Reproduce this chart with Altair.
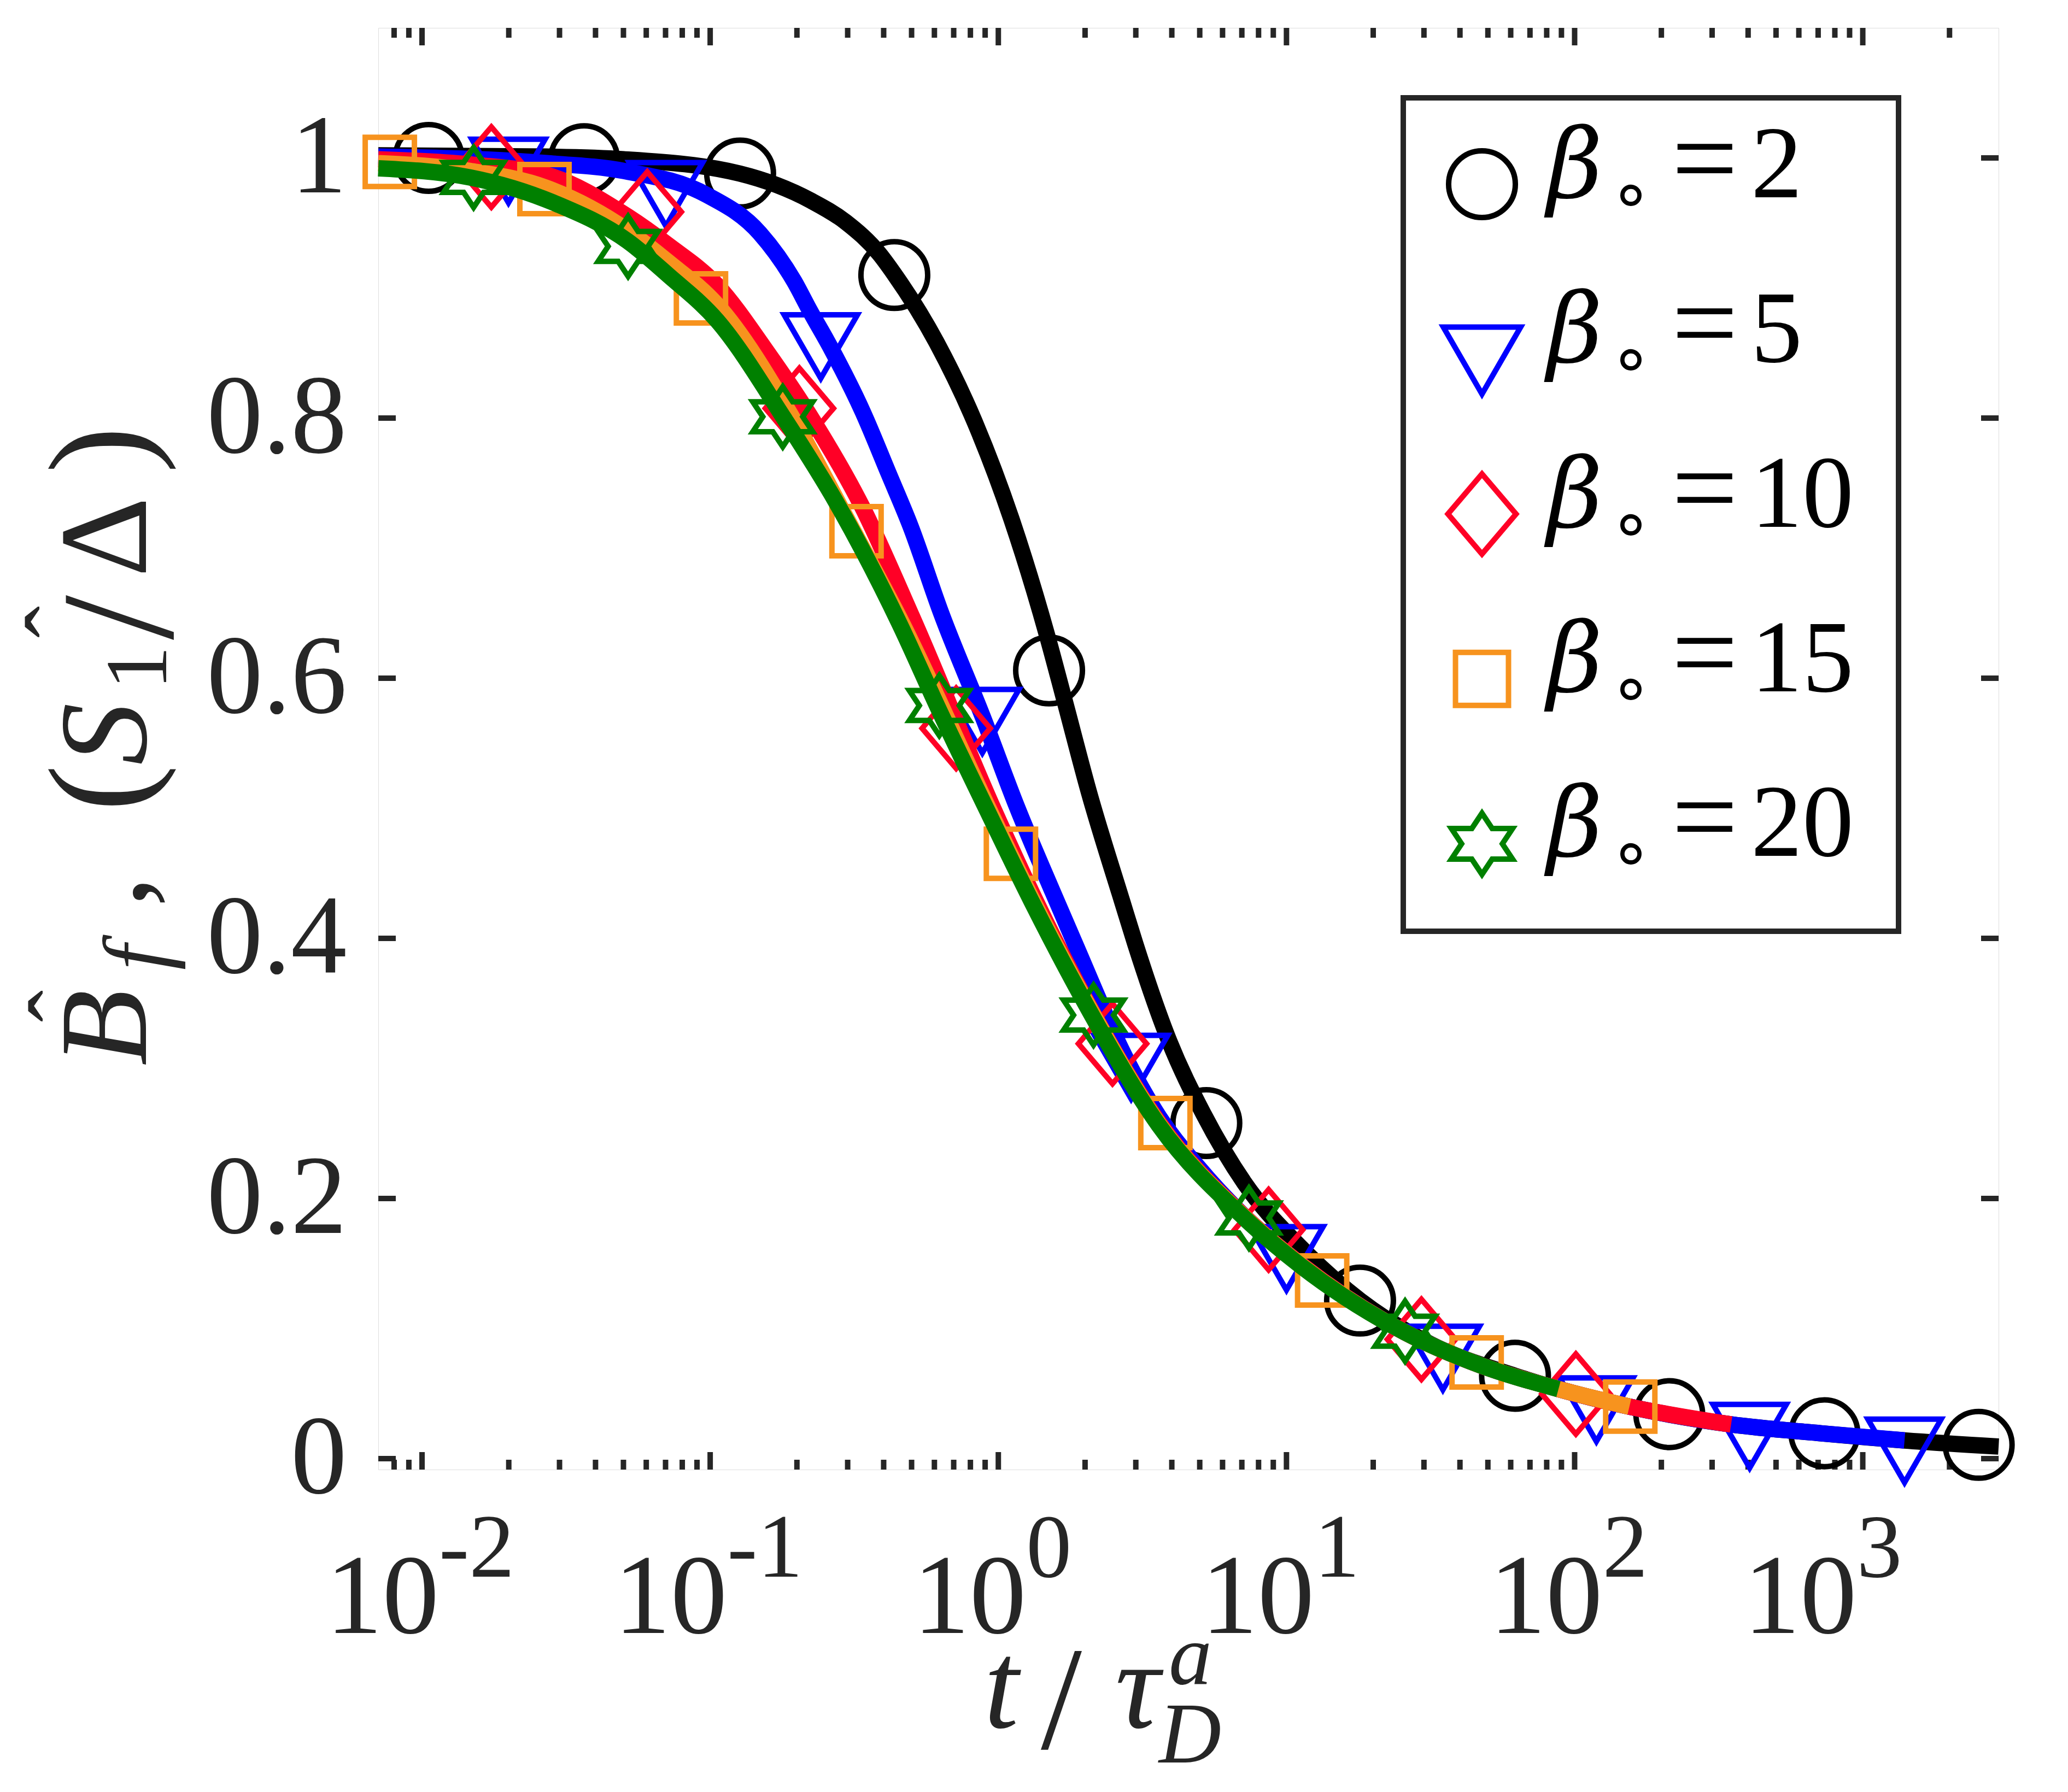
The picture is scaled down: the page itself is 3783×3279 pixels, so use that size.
import altair as alt
import pandas as pd

AX = "#262626"
W, H = 2964, 2638
PAD = {"left": 684, "top": 43, "right": 110, "bottom": 582}

# ---------------- data ----------------
beta_values = ["2", "5", "10", "15", "20"]
colors = ["#000000", "#0000FF", "#FF0026", "#F7931E", "#008000"]

# theory curves (t / tau_D^a , value)
b2_curve_t = [0.00705, 0.02704, 0.05012, 0.1265, 0.2244, 0.2944, 0.3873, 0.4345, 0.6109, 0.8318,
              1.112, 1.472, 1.702, 2.065, 2.685, 2.985, 3.917, 5.152, 7.145, 11.25,
              18.03, 31.62, 62.09, 154.9, 349.1, 714.5, 1396, 2960]
b2_curve_v = [1.002, 1.001, 0.999, 0.988, 0.967, 0.951, 0.926, 0.911, 0.858, 0.796,
              0.722, 0.634, 0.582, 0.512, 0.429, 0.396, 0.321, 0.265, 0.212, 0.162,
              0.1215, 0.088, 0.0637, 0.040, 0.0263, 0.0195, 0.014, 0.0093]

b5_curve_t = [0.00705, 0.02704, 0.05012, 0.09638, 0.1489, 0.1959, 0.2213, 0.2636, 0.3381, 0.4169,
              0.4955, 0.6310, 0.8913, 1.156, 1.549, 1.828, 2.825, 3.631, 4.898, 7.145,
              11.25, 25.82, 47.21, 87.90, 154.9, 349.1, 714.5, 1396]
b5_curve_v = [1.001, 0.996, 0.990, 0.972, 0.942, 0.905, 0.883, 0.853, 0.805, 0.757,
              0.717, 0.651, 0.568, 0.502, 0.435, 0.398, 0.304, 0.262, 0.225, 0.186,
              0.149, 0.097, 0.0717, 0.0535, 0.040, 0.0263, 0.0195, 0.014]

b10_curve_t = [0.00705, 0.01469, 0.02704, 0.05176, 0.07145, 0.1057, 0.1585, 0.2173, 0.3365, 0.5023,
               0.9705, 1.349, 2.123, 3.614, 7.145, 11.25, 25.82, 47.21, 87.90, 154.9, 349.1]
b10_curve_v = [0.999, 0.995, 0.987, 0.955, 0.933, 0.902, 0.850, 0.805, 0.732, 0.647,
               0.4975, 0.4287, 0.343, 0.258, 0.186, 0.149, 0.097, 0.0717, 0.0535, 0.040, 0.0263]

b15_curve_t = [0.00705, 0.01469, 0.02704, 0.05176, 0.07145, 0.1057, 0.1932, 0.2825, 0.4667, 0.9333,
               1.318, 2.138, 3.614, 7.145, 11.25, 25.82, 47.21, 87.90, 154.9]
b15_curve_v = [0.996, 0.990, 0.977, 0.944, 0.920, 0.887, 0.800, 0.732, 0.641, 0.498,
               0.429, 0.341, 0.257, 0.1855, 0.1485, 0.097, 0.0717, 0.0535, 0.040]

b20_curve_t = [0.00705, 0.01469, 0.02904, 0.05176, 0.07145, 0.1057, 0.1803, 0.2742, 0.4560, 0.6152,
               0.9162, 1.300, 2.123, 3.614, 7.145, 11.25, 25.82, 47.21, 87.90]
b20_curve_v = [0.992, 0.985, 0.965, 0.936, 0.910, 0.875, 0.800, 0.735, 0.641, 0.578,
               0.498, 0.429, 0.340, 0.256, 0.185, 0.148, 0.097, 0.0717, 0.0535]

# simulation markers
b2_mark_t = [0.01054, 0.0365, 0.127, 0.4355, 1.50, 5.27, 18.0, 62.1, 213, 736, 2525]
b2_mark_v = [1.000, 0.999, 0.988, 0.910, 0.606, 0.258, 0.1215, 0.0637, 0.0342, 0.0195, 0.0106]

b5_mark_t = [0.01995, 0.0702, 0.242, 0.88, 2.89, 10.0, 34.9, 119, 405, 1396]
b5_mark_v = [0.990, 0.972, 0.855, 0.567, 0.301, 0.154, 0.0774, 0.0377, 0.0173, 0.006]

b10_mark_t = [0.0174, 0.0605, 0.204, 0.714, 2.49, 8.67, 29.4, 101]
b10_mark_v = [0.993, 0.9585, 0.8075, 0.5615, 0.319, 0.176, 0.0917, 0.0497]

b15_mark_t = [0.00773, 0.0266, 0.0929, 0.322, 1.106, 3.80, 13.3, 45.7, 156]
b15_mark_v = [0.997, 0.976, 0.892, 0.713, 0.465, 0.258, 0.137, 0.074, 0.040]

b20_mark_t = [0.0151, 0.0519, 0.1786, 0.624, 2.14, 7.41, 25.8]
b20_mark_v = [0.985, 0.932, 0.801, 0.579, 0.341, 0.185, 0.098]

# axes
x_major = [0.01, 0.1, 1, 10, 100, 1000]
x_major_exp = ["-2", "-1", "0", "1", "2", "3"]
y_major = [0, 0.2, 0.4, 0.6, 0.8, 1.0]
x_minor = [m * 10.0 ** k for k in range(-3, 4) for m in range(2, 10)
           if 0.00705 < m * 10.0 ** k < 2960]

# ---------------- styling ----------------
DIAMOND = "M0,-1L0.85,0L0,1L-0.85,0Z"
HEXAGRAM = ("M0,-1L0.333,-0.5L1,-0.5L0.667,0L1,0.5L0.333,0.5L0,1L-0.333,0.5"
            "L-1,0.5L-0.667,0L-1,-0.5L-0.333,-0.5Z")
shapes = ["circle", "triangle-down", DIAMOND, "square", HEXAGRAM]
mark_sizes = [14900, 18000, 21500, 8100, 12000]
legend_sizes = [14900, 20000, 21500, 9400, 12500]

xscale = alt.Scale(type="log", domain=[0.00705, 2960], nice=False)
yscale = alt.Scale(domain=[-0.0084, 1.1], nice=False, zero=False)
yaxis = alt.Axis(values=y_major, format="~g", labelFont="Liberation Serif",
                 labelFontSize=205, labelColor=AX, labelPadding=58, ticks=False,
                 domain=False, grid=False, title=None, labelFlush=False,
                 labelOverlap=False, labelLimit=3000)
X = alt.X("t:Q", scale=xscale, axis=None)
Y = alt.Y("v:Q", scale=yscale, axis=yaxis)

layers = []

# ticks (inside, on all four sides)
ydf = pd.DataFrame({"v": y_major})
layers.append(alt.Chart(ydf).mark_rule(color=AX, strokeWidth=10).encode(
    y=Y, x=alt.value(0), x2=alt.value(32)))
layers.append(alt.Chart(ydf).mark_rule(color=AX, strokeWidth=10).encode(
    y=Y, x=alt.value(W - 32), x2=alt.value(W)))
xmaj = pd.DataFrame({"t": x_major})
xmin = pd.DataFrame({"t": x_minor})
for df, ln in [(xmaj, 32), (xmin, 18)]:
    layers.append(alt.Chart(df).mark_rule(color=AX, strokeWidth=10).encode(
        x=X, y=alt.value(H - ln), y2=alt.value(H)))
    layers.append(alt.Chart(df).mark_rule(color=AX, strokeWidth=10).encode(
        x=X, y=alt.value(0), y2=alt.value(ln)))

# series: markers then curve, in plotting order
series = [
    (b2_curve_t, b2_curve_v, b2_mark_t, b2_mark_v),
    (b5_curve_t, b5_curve_v, b5_mark_t, b5_mark_v),
    (b10_curve_t, b10_curve_v, b10_mark_t, b10_mark_v),
    (b15_curve_t, b15_curve_v, b15_mark_t, b15_mark_v),
    (b20_curve_t, b20_curve_v, b20_mark_t, b20_mark_v),
]
for i, (ct, cv, mt, mv) in enumerate(series):
    mdf = pd.DataFrame({"t": mt, "v": mv})
    cdf = pd.DataFrame({"t": ct, "v": cv})
    layers.append(alt.Chart(mdf).mark_point(
        shape=shapes[i], size=mark_sizes[i], filled=False, strokeWidth=10,
        color=colors[i], opacity=1).encode(x=X, y=Y))
    layers.append(alt.Chart(cdf).mark_line(
        color=colors[i], strokeWidth=30, interpolate="monotone",
        strokeCap="butt", strokeJoin="round").encode(x=X, y=Y))

# x tick labels: 10 with exponent
xl = pd.DataFrame({"t": x_major, "base": ["10"] * 6, "exp": x_major_exp,
                   "grp": [0, 0, 1, 1, 1, 2]})
for g, dx in [(0, 31), (1, 51), (2, -11)]:
    sub = alt.Chart(xl).transform_filter(alt.datum.grp == g)
    layers.append(sub.mark_text(font="Liberation Serif", fontSize=207, align="right",
                                baseline="alphabetic", dx=dx, color=AX).encode(
        x=X, y=alt.value(2937), text="base:N"))
    layers.append(sub.mark_text(font="Liberation Serif", fontSize=166, align="left",
                                baseline="alphabetic", dx=dx, color=AX).encode(
        x=X, y=alt.value(2834), text="exp:N"))


def pix_text(df, italic=False, angle=0, align="left", font="Liberation Serif", color=AX):
    return alt.Chart(df).mark_text(
        font=font, fontStyle="italic" if italic else "normal", angle=angle,
        align=align, baseline="alphabetic", color=color
    ).encode(
        x=alt.X("px:Q", scale=None, axis=None),
        y=alt.Y("py:Q", scale=None, axis=None),
        text="txt:N",
        size=alt.Size("fs:Q", scale=None, legend=None),
    )


# y title:  B^_f , ( S_1 / Delta )^
yt_it = pd.DataFrame({"txt": ["B", "f", "S"], "px": [-425, -388, -425],
                      "py": [1899, 1724, 1349], "fs": [228, 165, 228]})
yt_up = pd.DataFrame({"txt": [",", "(", "1", "/", "\u0394", ")"],
                      "px": [-425, -425, -388, -377, -425, -425],
                      "py": [1609, 1434, 1211, 1120, 1005, 815],
                      "fs": [228, 258, 160, 295, 228, 258]})
yt_hat = pd.DataFrame({"txt": ["\u02c6", "\u02c6"], "px": [-518, -524],
                       "py": [1790, 1087], "fs": [176, 176]})
layers.append(pix_text(yt_it, italic=True, angle=270))
layers.append(pix_text(yt_up, angle=270))
layers.append(pix_text(yt_hat, angle=270, align="center"))

# x title:  t / tau_D^a
xt_it = pd.DataFrame({"txt": ["t", "\u03c4", "a", "D"], "px": [1108, 1348, 1446, 1428],
                      "py": [3110, 3110, 3030, 3174], "fs": [228, 228, 158, 158]})
xt_up = pd.DataFrame({"txt": ["/"], "px": [1212], "py": [3148], "fs": [270]})
layers.append(pix_text(xt_it, italic=True))
layers.append(pix_text(xt_up))

# legend
box = pd.DataFrame({"k": [0]})
layers.append(alt.Chart(box).mark_rect(fill="white", stroke=AX, strokeWidth=10).encode(
    x=alt.value(1875), x2=alt.value(2781), y=alt.value(128), y2=alt.value(1653)))
rows = list(range(len(beta_values)))
leg = pd.DataFrame({
    "lab": beta_values,
    "col": colors,
    "shape": shapes,
    "sz": legend_sizes,
    "sx": [2019] * len(rows),
    "sy": [286 + 301.75 * r + (21 if shapes[r] == "triangle-down" else 0) for r in rows],
    "ty": [310 + 301.25 * r for r in rows],
    "ry": [346 + 301.25 * r for r in rows],
})
layers.append(alt.Chart(leg).mark_point(filled=False, strokeWidth=10, opacity=1).encode(
    x=alt.X("sx:Q", scale=None, axis=None),
    y=alt.Y("sy:Q", scale=None, axis=None),
    shape=alt.Shape("shape:N", scale=None, legend=None),
    color=alt.Color("col:N", scale=None, legend=None),
    size=alt.Size("sz:Q", scale=None, legend=None)))
LY = alt.Y("ty:Q", scale=None, axis=None)
layers.append(alt.Chart(leg).mark_text(font="DejaVu Serif", fontStyle="italic",
                                       fontSize=176, align="left", baseline="alphabetic",
                                       color="black").encode(
    x=alt.value(2138), y=LY, text=alt.value("\u03b2")))
layers.append(alt.Chart(leg).mark_text(font="DejaVu Sans", fontSize=126, align="left",
                                       baseline="alphabetic", color="black").encode(
    x=alt.value(2252), y=alt.Y("ry:Q", scale=None, axis=None), text=alt.value("\u2218")))
layers.append(alt.Chart(leg).mark_text(font="Liberation Serif", fontSize=215, align="left",
                                       baseline="alphabetic", color="black").encode(
    x=alt.value(2366), y=LY, text=alt.value("=")))
layers.append(alt.Chart(leg).mark_text(font="Liberation Serif", fontSize=188, align="left",
                                       baseline="alphabetic", color="black").encode(
    x=alt.value(2511), y=LY, text="lab:N"))

chart = alt.layer(*layers).properties(
    width=W, height=H, padding=PAD, autosize=alt.AutoSizeParams(type="none")
).configure_view(stroke=AX, strokeWidth=10).configure(background="white")

chart.save("out.html", embed_options={"renderer": "svg", "actions": False})
